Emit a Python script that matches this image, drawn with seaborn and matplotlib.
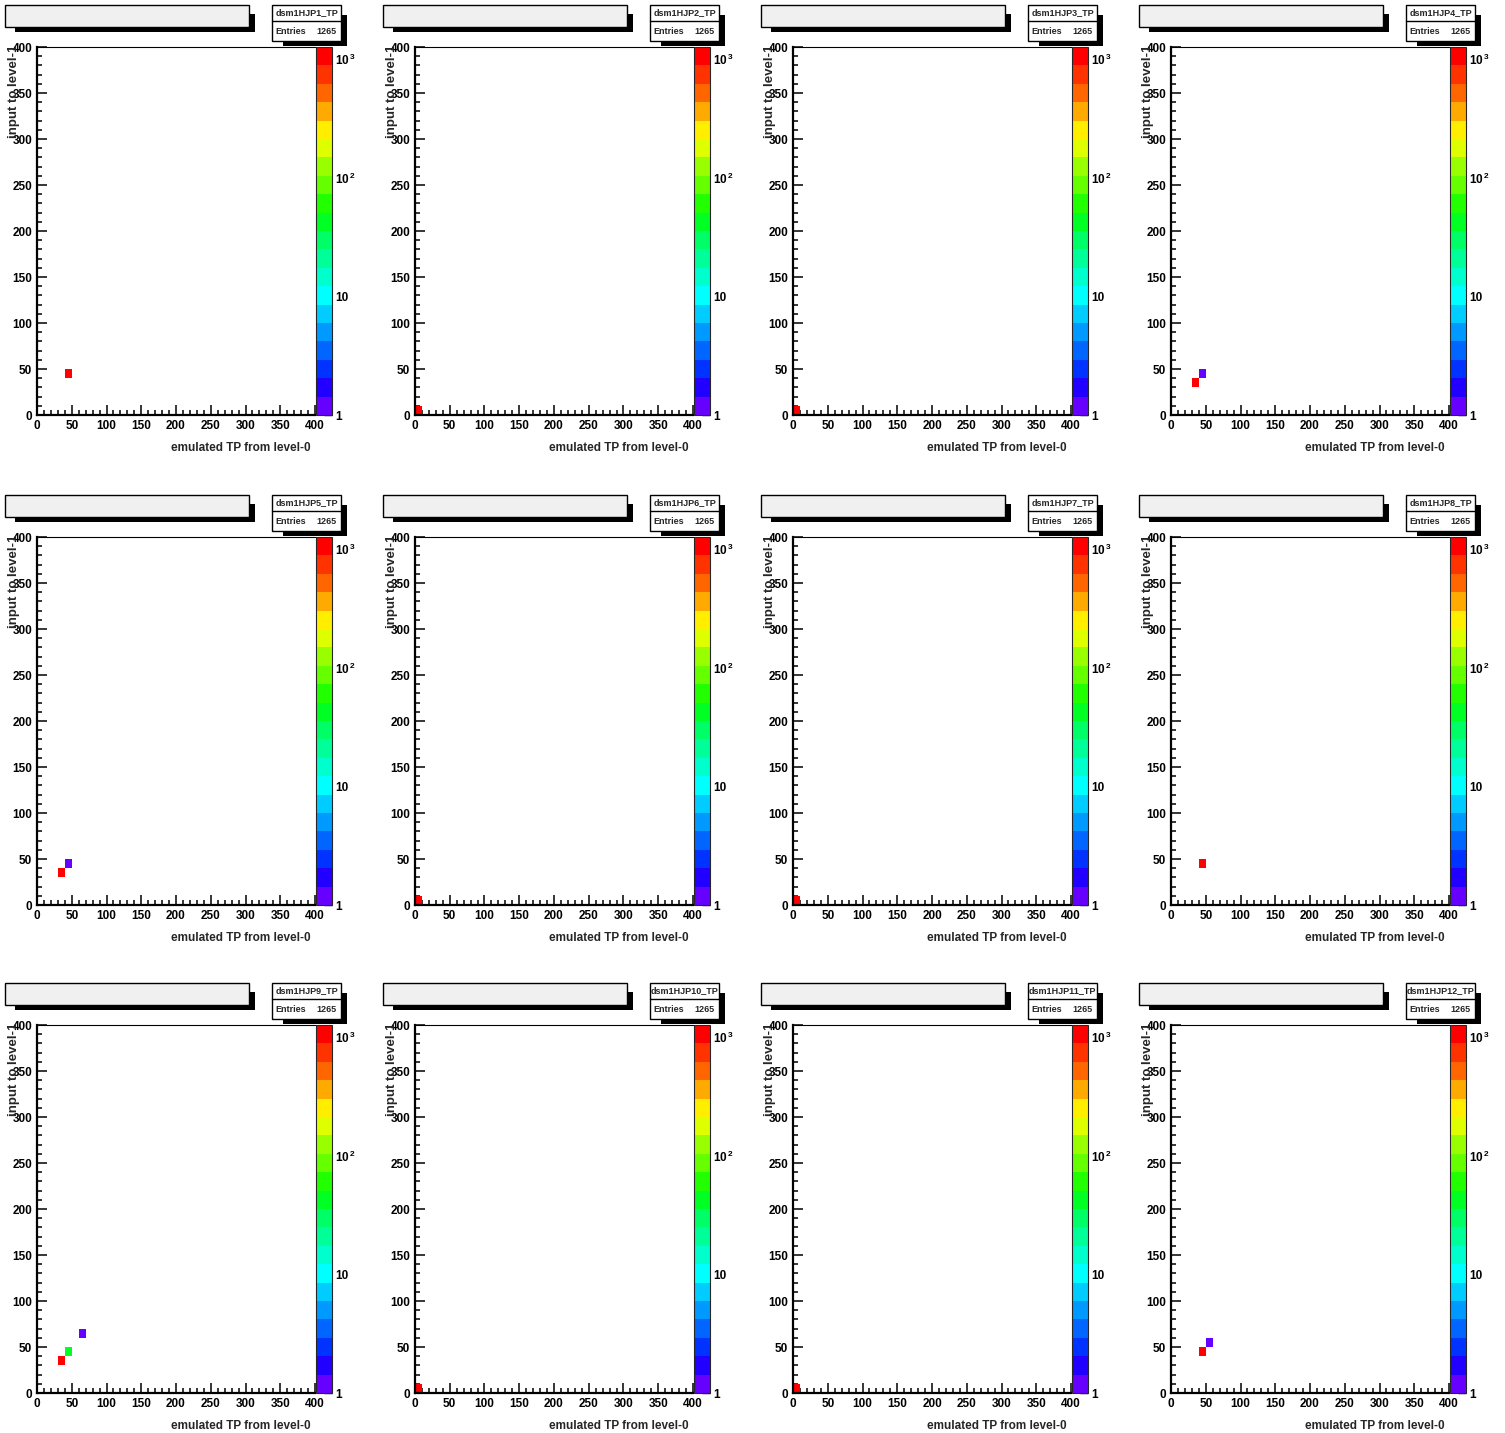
import numpy as np
import seaborn as sns
import matplotlib.pyplot as plt
from matplotlib.colors import ListedColormap, LogNorm
from matplotlib.patches import Rectangle
from matplotlib.ticker import MultipleLocator

sns.set_style("ticks")
plt.rcParams["font.family"] = ["Liberation Sans", "DejaVu Sans"]
plt.rcParams["font.weight"] = "bold"
plt.rcParams["mathtext.fontset"] = "custom"
plt.rcParams["mathtext.bf"] = "Liberation Sans:bold"
plt.rcParams["mathtext.rm"] = "Liberation Sans:bold"

# ---- data (bin centres, bin width 10) ----
hist_names = ["dsm1HJP1_TP", "dsm1HJP2_TP", "dsm1HJP3_TP", "dsm1HJP4_TP",
              "dsm1HJP5_TP", "dsm1HJP6_TP", "dsm1HJP7_TP", "dsm1HJP8_TP",
              "dsm1HJP9_TP", "dsm1HJP10_TP", "dsm1HJP11_TP", "dsm1HJP12_TP"]
entries = [1265] * 12
bin_x = [[45], [5], [5], [35, 45], [35, 45], [5], [5], [45],
         [35, 45, 65], [5], [5], [45, 55]]
bin_y = [[45], [5], [5], [35, 45], [35, 45], [5], [5], [45],
         [35, 45, 65], [5], [5], [45, 55]]
bin_counts = [[1265], [1265], [1265], [1264, 1], [1264, 1], [1265], [1265], [1265],
              [1224, 40, 1], [1265], [1265], [1264, 1]]

xlabel = "emulated TP from level-0"
ylabel = "input to level-1"
cbar_ticks = [1, 10, 100, 1000]
cbar_labels = ["1", "10", r"$\mathbf{10^{\,2}}$", r"$\mathbf{10^{\,3}}$"]

# ROOT "pretty" palette, 20 contour levels (bottom -> top)
palette = ["#6600ff", "#2200ff", "#0033ff", "#0066ff", "#0099ff", "#00ccff",
           "#00ffff", "#00ffcc", "#00ff99", "#00ff66", "#00ff22", "#22ff00",
           "#66ff00", "#99ff00", "#ddff00", "#ffee00", "#ffaa00", "#ff6600",
           "#ff3300", "#ff0000"]
cmap = ListedColormap(palette)

W, H = 1505, 1433
fig = plt.figure(figsize=(W / 100, H / 100), dpi=100)


def fx(px):
    return px / W


def fy(py):
    return 1 - py / H


def add_rect(x0, y0, x1, y1, **kw):
    fig.patches.append(Rectangle((fx(x0), fy(y1)), (x1 - x0) / W, (y1 - y0) / H,
                                 transform=fig.transFigure, **kw))


col_x0 = [37, 415, 793, 1171]
row_y0 = [47, 537, 1025]
aw, ah = 278, 368
fs = 8.5

for i in range(12):
    r, c = divmod(i, 4)
    x0, y0 = col_x0[c], row_y0[r]

    ax = fig.add_axes([fx(x0), fy(y0 + ah), aw / W, ah / H])
    sns.histplot(x=bin_x[i], y=bin_y[i], weights=bin_counts[i], binwidth=10,
                 binrange=((0, 400), (0, 400)), cmap=cmap, vmin=1, vmax=1265, ax=ax)
    mesh = ax.collections[-1]
    mesh.set_norm(LogNorm(vmin=1, vmax=1265))

    ax.set_xlim(0, 400)
    ax.set_ylim(0, 400)
    ax.set_xlabel("")
    ax.set_ylabel("")
    ax.xaxis.set_major_locator(MultipleLocator(50))
    ax.xaxis.set_minor_locator(MultipleLocator(10))
    ax.yaxis.set_major_locator(MultipleLocator(50))
    ax.yaxis.set_minor_locator(MultipleLocator(10))
    ax.tick_params(which="both", direction="in", colors="black", labelsize=fs,
                   top=False, right=False, width=1.1)
    ax.tick_params(which="major", length=7, pad=3.5)
    ax.tick_params(which="minor", length=3.5)
    for lab in ax.get_xticklabels() + ax.get_yticklabels():
        lab.set_fontweight("bold")
    for side in ["left", "bottom"]:
        ax.spines[side].set_linewidth(1.6)
        ax.spines[side].set_color("black")
    ax.spines["top"].set_linewidth(0.8)
    ax.spines["top"].set_color("black")
    ax.spines["right"].set_visible(False)

    # colour bar
    cax = fig.add_axes([fx(x0 + aw + 1), fy(y0 + ah), 16 / W, ah / H])
    cb = fig.colorbar(mesh, cax=cax)
    cb.outline.set_linewidth(0.8)
    cb.set_ticks(cbar_ticks)
    cb.set_ticklabels(cbar_labels)
    cax.tick_params(which="both", direction="in", colors="black", labelsize=fs,
                    right=True, left=False, width=1.0, pad=2)
    cax.tick_params(which="major", length=6)
    cax.tick_params(which="minor", length=3)
    for lab in cax.get_yticklabels():
        lab.set_fontweight("bold")

    # axis titles
    fig.text(fx(x0 + 274), fy(y0 + 401), xlabel, ha="right", va="center",
             fontsize=fs, fontweight="bold")
    fig.text(fx(x0 - 23), fy(y0 - 2), ylabel, ha="center", va="top", rotation=90,
             fontsize=9.5, fontweight="bold")

    # empty title box with shadow
    add_rect(x0 - 22, y0 - 33, x0 + 218, y0 - 15, facecolor="black", edgecolor="none")
    add_rect(x0 - 32, y0 - 42, x0 + 212, y0 - 20, facecolor="#f0f0f0",
             edgecolor="black", linewidth=1.0)

    # stats box with shadow
    add_rect(x0 + 246, y0 - 32, x0 + 310, y0 - 1, facecolor="black", edgecolor="none")
    add_rect(x0 + 235, y0 - 42, x0 + 304, y0 - 6, facecolor="white",
             edgecolor="black", linewidth=1.0)
    fig.lines.append(plt.Line2D([fx(x0 + 235), fx(x0 + 304)],
                                [fy(y0 - 26), fy(y0 - 26)],
                                transform=fig.transFigure, color="black", linewidth=1.0))
    fig.text(fx(x0 + 269.5), fy(y0 - 34), hist_names[i], ha="center", va="center",
             fontsize=6.5, fontweight="bold")
    fig.text(fx(x0 + 238), fy(y0 - 16), "Entries", ha="left", va="center",
             fontsize=6.5, fontweight="bold")
    fig.text(fx(x0 + 300), fy(y0 - 16), str(entries[i]), ha="right", va="center",
             fontsize=6.5, fontweight="bold")

fig.savefig("out.png", dpi=100, facecolor="white")
